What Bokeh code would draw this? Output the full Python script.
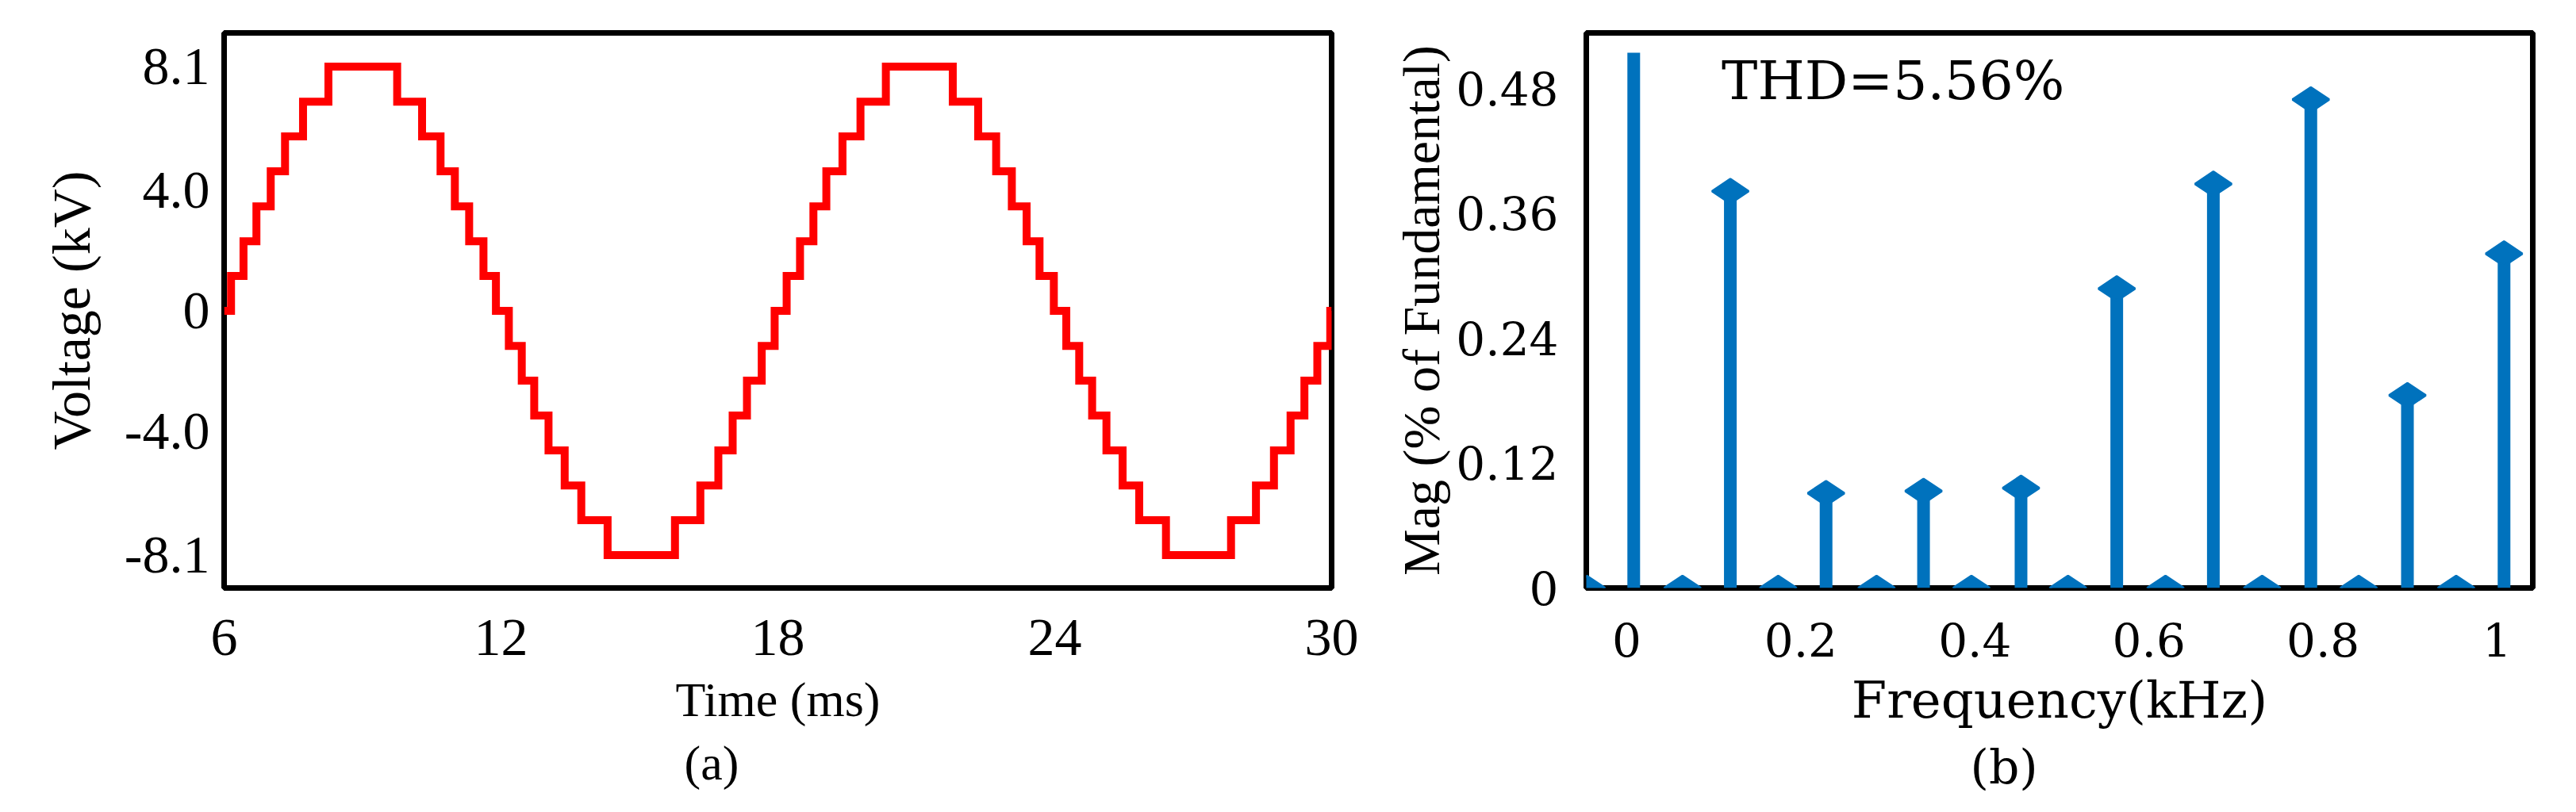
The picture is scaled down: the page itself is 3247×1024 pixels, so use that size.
import math
from bokeh.plotting import figure
from bokeh.layouts import row
from bokeh.models import Range1d, FixedTicker, Label, Title
from bokeh.embed import file_html
from bokeh.resources import INLINE

# ---------------- (a) staircase voltage ----------------
# start time (ms) of each level of the staircase
t_ms = [6.00, 6.15, 6.42, 6.70, 7.01, 7.32, 7.71, 8.26,
        9.75, 10.29, 10.69, 11.00, 11.31, 11.62, 11.89, 12.17, 12.45, 12.72, 13.03, 13.38, 13.74, 14.31,
        15.77, 16.32, 16.71, 17.02, 17.33, 17.65, 17.93, 18.19, 18.48, 18.77, 19.05, 19.40, 19.79, 20.34,
        21.79, 22.34, 22.73, 23.07, 23.39, 23.67, 23.98, 24.25, 24.53, 24.81, 25.12, 25.47, 25.83, 26.41,
        27.82, 28.36, 28.75, 29.11, 29.41, 29.69, 29.97, 30.00]
# voltage (kV) held from each start time
v_kv = [0.0, 1.16, 2.31, 3.47, 4.63, 5.79, 6.94, 8.1,
        6.94, 5.79, 4.63, 3.47, 2.31, 1.16, 0.0, -1.16, -2.31, -3.47, -4.63, -5.79, -6.94, -8.1,
        -6.94, -5.79, -4.63, -3.47, -2.31, -1.16, 0.0, 1.16, 2.31, 3.47, 4.63, 5.79, 6.94, 8.1,
        6.94, 5.79, 4.63, 3.47, 2.31, 1.16, 0.0, -1.16, -2.31, -3.47, -4.63, -5.79, -6.94, -8.1,
        -6.94, -5.79, -4.63, -3.47, -2.31, -1.16, 0.0, 0.0]
a_xticks = [6, 12, 18, 24, 30]
a_yticks = [-8.1, -4.0, 0, 4.0, 8.1]
a_ylabels = {-8.1: "-8.1", -4.0: "-4.0", 0: "0", 4.0: "4.0", 8.1: "8.1"}

# ---------------- (b) harmonic spectrum ----------------
fund_khz = [0.008]
fund_mag = [0.514]
harm_khz = [-0.046, 0.064, 0.119, 0.174, 0.229, 0.287, 0.341, 0.396, 0.453, 0.507,
            0.563, 0.619, 0.674, 0.730, 0.786, 0.841, 0.897, 0.953, 1.008]
harm_mag = [0.0, 0.0, 0.381, 0.0, 0.091, 0.0, 0.093, 0.0, 0.096, 0.0,
            0.2875, 0.0, 0.388, 0.0, 0.469, 0.0, 0.185, 0.0, 0.321]
b_xticks = [0, 0.2, 0.4, 0.6, 0.8, 1]
b_xlabels = {0: "0", 0.2: "0.2", 0.4: "0.4", 0.6: "0.6", 0.8: "0.8", 1: "1"}
b_yticks = [0, 0.12, 0.24, 0.36, 0.48]
b_ylabels = {0: "0", 0.12: "0.12", 0.24: "0.24", 0.36: "0.36", 0.48: "0.48"}
thd_text = "THD=5.56%"

SERIF_A = "Liberation Serif"
SERIF_B = "DejaVu Serif"
BLUE = "#0072BD"


def style(p, font, tick_size, label_size):
    p.outline_line_color = "black"
    p.outline_line_width = 7
    p.grid.grid_line_color = None
    p.background_fill_color = "white"
    p.border_fill_color = "white"
    for ax in (p.xaxis[0], p.yaxis[0]):
        ax.major_tick_line_color = None
        ax.minor_tick_line_color = None
        ax.axis_line_color = None
        ax.major_tick_out = 0
        ax.major_tick_in = 0
        ax.major_label_text_font = font
        ax.major_label_text_font_size = tick_size
        ax.major_label_text_color = "black"
        ax.axis_label_text_font = SERIF_A if ax is p.yaxis[0] else font
        ax.axis_label_text_font_size = label_size
        ax.axis_label_text_font_style = "normal"
        ax.axis_label_text_color = "black"


# ---------- figure (a) ----------
pa = figure(width=1720, height=1008, output_backend="svg", toolbar_location=None,
            x_range=Range1d(6, 30), y_range=Range1d(-9.19, 9.22),
            min_border_left=282, min_border_right=42, min_border_top=41, min_border_bottom=258,
            x_axis_label="Time (ms)", y_axis_label="Voltage (kV)")
style(pa, SERIF_A, "68px", "68px")
pa.step(t_ms, v_kv, mode="after", line_color="#FF0000", line_width=10, line_join="miter")
pa.xaxis.ticker = FixedTicker(ticks=a_xticks)
pa.yaxis.ticker = FixedTicker(ticks=a_yticks)
pa.yaxis.major_label_overrides = a_ylabels
pa.yaxis.major_label_standoff = 18
pa.xaxis.major_label_standoff = 40
pa.yaxis.axis_label_standoff = 26
pa.xaxis.axis_label_standoff = 19
pa.xaxis.axis_label_text_font_size = "62px"
pa.add_layout(Title(text="(a)", align="left", offset=580, text_font=SERIF_A, text_color="black",
                    text_font_size="62px", text_font_style="normal", standoff=14), "below")

# ---------- figure (b) ----------
pb = figure(width=1511, height=1008, output_backend="svg", toolbar_location=None,
            x_range=Range1d(-0.0465, 1.041), y_range=Range1d(0, 0.533),
            min_border_left=279, min_border_right=39, min_border_top=20, min_border_bottom=263,
            x_axis_label="Frequency(kHz)", y_axis_label="Mag (% of Fundamental)")
style(pb, SERIF_B, "58px", "64px")
pb.yaxis.axis_label_text_font_size = "66px"
pb.segment(x0=fund_khz, y0=[0] * len(fund_khz), x1=fund_khz, y1=fund_mag,
           line_color=BLUE, line_width=16, line_cap="butt")
pb.segment(x0=harm_khz, y0=[0] * len(harm_khz), x1=harm_khz, y1=harm_mag,
           line_color=BLUE, line_width=16, line_cap="butt")
pb.scatter(harm_khz, harm_mag, marker="diamond", size=46, angle=math.pi / 2,
           fill_color=BLUE, line_color=BLUE, line_width=3)
pb.xaxis.ticker = FixedTicker(ticks=b_xticks)
pb.yaxis.ticker = FixedTicker(ticks=b_yticks)
pb.xaxis.major_label_overrides = b_xlabels
pb.yaxis.major_label_overrides = b_ylabels
pb.yaxis.major_label_standoff = 35
pb.xaxis.major_label_standoff = 43
pb.yaxis.axis_label_standoff = 4
pb.xaxis.axis_label_standoff = 15
pb.add_layout(Label(x=0.109, y=0.487, text=thd_text, text_font=SERIF_B, text_font_size="68px",
                    text_color="black", text_baseline="alphabetic", text_align="left"))
pb.add_layout(Title(text="(b)", align="left", offset=484, text_font=SERIF_B, text_color="black",
                    text_font_size="60px", text_font_style="normal", standoff=14), "below")

layout = row(pa, pb, spacing=0)
open("out.html", "w").write(file_html(layout, INLINE))
